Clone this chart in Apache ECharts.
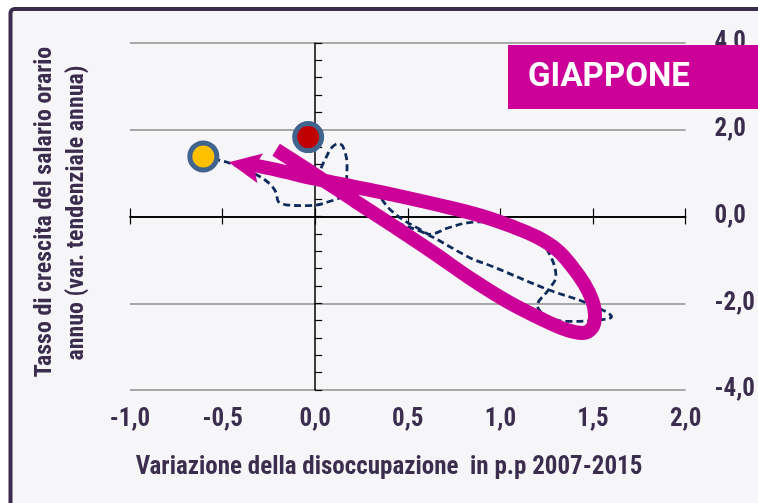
<!DOCTYPE html>
<html>
<head>
<meta charset="utf-8">
<script src="https://cdn.jsdelivr.net/npm/echarts@6/dist/echarts.min.js"></script>
<style>
  html, body { margin: 0; padding: 0; background: #fff; }
  #chart { width: 758px; height: 503px; }
</style>
</head>
<body>
<div id="chart"></div>
<script>
// axis ticks
const xTicks = [-1, -0.5, 0, 0.5, 1, 1.5, 2];
const xTickLabels = ['-1,0', '-0,5', '0,0', '0,5', '1,0', '1,5', '2,0'];
const yTicks = [-4, -2, 0, 2, 4];
const yTickLabels = ['-4,0', '-2,0', '0,0', '2,0', '4,0'];

// Japan trajectory 2007-2015 (unemployment change, wage growth)
const trajX = [0.22, 0.34, 0.36, 0.41, 0.48, 0.56, 0.62, 0.72, 0.83, 0.95, 1.10, 1.22, 1.28, 1.30, 1.26, 1.20, 1.25, 1.37, 1.49, 1.60,
  1.47, 1.26, 0.95, 0.84, 0.60, 0.47, 0.38, 0.26, 0.16, 0.05, 0.015, 0.026, 0.053, 0.088, 0.123, 0.149, 0.172, 0.17, 0.17, 0.05,
  -0.05, -0.158, -0.20, -0.21, -0.24, -0.30, -0.46, -0.52, -0.604];
const trajY = [0.74, 0.62, 0.40, 0.14, -0.09, -0.28, -0.41, -0.26, -0.14, -0.12, -0.30, -0.60, -1.00, -1.38, -1.69, -2.05, -2.31, -2.42, -2.40, -2.31,
  -2.00, -1.69, -1.14, -0.96, -0.40, -0.19, -0.03, 0.27, 0.50, 0.69, 0.85, 1.05, 1.31, 1.58, 1.68, 1.62, 1.20, 0.80, 0.57, 0.31,
  0.25, 0.27, 0.35, 0.54, 0.73, 0.92, 1.23, 1.30, 1.385];

// magenta guide arrow
const guideX = [-0.211, 0.0, 0.221, 0.421, 0.632, 0.842, 1.042, 1.221, 1.358, 1.442, 1.495, 1.511, 1.495,
  1.453, 1.384, 1.305, 1.195, 1.053, 0.895, 0.684, 0.421, 0.211, 0.0, -0.211, -0.342];
const guideY = [1.539, 0.962, 0.339, -0.215, -0.815, -1.438, -1.969, -2.361, -2.615, -2.684, -2.569, -2.269, -1.923,
  -1.553, -1.138, -0.769, -0.469, -0.215, 0.016, 0.247, 0.501, 0.685, 0.870, 1.078, 1.193];
const arrowHead = [-0.382, 1.182];

// start (2007) and end (2015) markers
const startPoint = [-0.038, 1.83];
const endPoint = [-0.604, 1.385];

const txtColor = '#3b2d4d';
const narrow = "'Liberation Sans Narrow', 'Roboto Condensed', Roboto, sans-serif";

function tickLabel(ticks, labels){
  return (v) => {
    const i = ticks.findIndex(t => Math.abs(t - v) < 1e-6);
    return i >= 0 ? labels[i] : '';
  };
}
const zip = (a, b) => a.map((v, i) => [v, b[i]]);

const chart = echarts.init(document.getElementById('chart'));
const baseX = { type: 'value', min: -1, max: 2, interval: 0.5 };
const baseY = { type: 'value', min: -4, max: 4, interval: 2 };

chart.setOption({
  animation: false,
  backgroundColor: '#ffffff',
  grid: { left: 130, right: 58, top: 43, bottom: 113 },
  xAxis: [
    { ...baseX, position: 'bottom',
      axisLine: { show: false, onZero: false }, axisTick: { show: false }, splitLine: { show: false },
      axisLabel: { margin: 17, color: txtColor, fontWeight: 'bold', fontSize: 25, fontFamily: narrow,
        formatter: tickLabel(xTicks, xTickLabels) } },
    { ...baseX, position: 'bottom',
      axisLine: { onZero: true, onZeroAxisIndex: 0, lineStyle: { color: '#000', width: 1.5 } },
      axisTick: { length: 8, lineStyle: { color: '#000', width: 1.2 } },
      axisLabel: { show: false }, splitLine: { show: false } },
    { ...baseX, position: 'bottom',
      axisLine: { onZero: true, onZeroAxisIndex: 1, lineStyle: { color: '#000', width: 1.5 } },
      axisTick: { inside: true, length: 8, lineStyle: { color: '#000', width: 1.2 } },
      axisLabel: { show: false }, splitLine: { show: false } }
  ],
  yAxis: [
    { ...baseY, position: 'right',
      axisLine: { show: false, onZero: false }, axisTick: { show: false },
      splitLine: { show: true, lineStyle: { color: '#8e8e8e', width: 1.6 } },
      axisLabel: { margin: 29, color: txtColor, fontWeight: 'bold', fontSize: 25, fontFamily: narrow,
        formatter: tickLabel(yTicks, yTickLabels) } },
    { ...baseY, position: 'left',
      axisLine: { onZero: true, onZeroAxisIndex: 0, lineStyle: { color: '#000', width: 1.5 } },
      axisTick: { inside: true, length: 7, lineStyle: { color: '#000', width: 1.2 } },
      minorTick: { show: true, splitNumber: 5, length: 7, lineStyle: { color: '#000', width: 1.2 } },
      axisLabel: { show: false }, splitLine: { show: false } }
  ],
  graphic: [
    { type: 'rect', z: -10, silent: true,
      shape: { x: 10.5, y: 9, width: 800, height: 600, r: 4 },
      style: { fill: '#f6f6f9', stroke: '#3b2b4d', lineWidth: 4 } },
    { type: 'text', x: 45, y: 212, rotation: Math.PI / 2, z: 10,
      style: { text: 'Tasso di crescita del salario orario', font: 'bold 24px ' + narrow,
        fill: txtColor, textAlign: 'center', textVerticalAlign: 'middle' } },
    { type: 'text', x: 77, y: 213, rotation: Math.PI / 2, z: 10,
      style: { text: 'annuo (var. tendenziale annua)', font: 'bold 24px ' + narrow,
        fill: txtColor, textAlign: 'center', textVerticalAlign: 'middle' } },
    { type: 'text', x: 389, y: 468, z: 10,
      style: { text: 'Variazione della disoccupazione  in p.p 2007-2015', font: 'bold 25px ' + narrow,
        fill: txtColor, textAlign: 'center', textVerticalAlign: 'middle' } },
    { type: 'rect', z: 100, silent: true,
      shape: { x: 508, y: 45, width: 260, height: 64 },
      style: { fill: '#cc0099' } },
    { type: 'text', x: 528, y: 78, z: 101,
      style: { text: 'GIAPPONE', font: 'bold 33px Roboto, sans-serif', fill: '#ffffff',
        textAlign: 'left', textVerticalAlign: 'middle' } }
  ],
  series: [
    { type: 'line', name: 'Giappone', z: 2, data: zip(trajX, trajY),
      smooth: 0.35, showSymbol: false, symbol: 'none',
      lineStyle: { color: '#0f2b5c', width: 2.8, type: [7, 4] } },
    { type: 'line', name: 'guida', z: 3, data: zip(guideX, guideY),
      smooth: 0.4, showSymbol: false, symbol: 'none',
      lineStyle: { color: '#cc0099', width: 14, cap: 'butt', join: 'round' } },
    { type: 'scatter', z: 4, data: [arrowHead],
      symbol: 'path://M15,0 L30,32 L15,26 L0,32 Z', symbolSize: [30, 32], symbolRotate: 79,
      itemStyle: { color: '#cc0099', opacity: 1 } },
    { type: 'scatter', z: 5,
      data: [
        { value: startPoint, itemStyle: { color: '#c00000' } },
        { value: endPoint, itemStyle: { color: '#ffc000' } }
      ],
      symbol: 'circle', symbolSize: 27,
      itemStyle: { borderColor: '#41648f', borderWidth: 5, opacity: 1 } }
  ]
});
</script>
</body>
</html>
